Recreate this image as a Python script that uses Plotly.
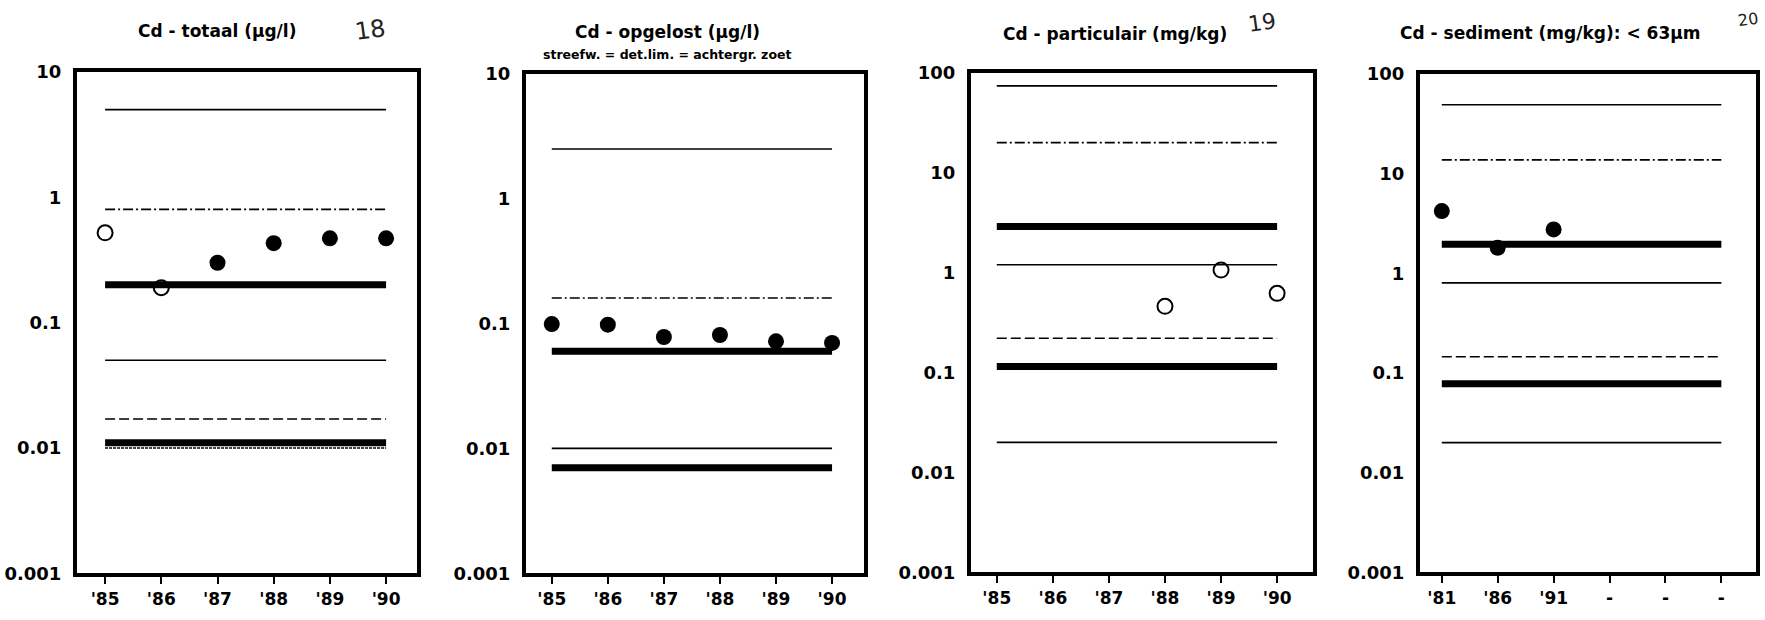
import plotly.graph_objects as go

W, H = 1765, 620

# ---------------- data ----------------
# Panel 1: Cd - totaal (ug/l)
p1_title = "Cd - totaal (µg/l)"
p1_years = ["'85", "'86", "'87", "'88", "'89", "'90"]
p1_open = [0.52, 0.19, None, None, None, None]
p1_filled = [None, None, 0.30, 0.43, 0.47, 0.47]
p1_thin = [5.0, 0.05]
p1_dashdot = [0.8]
p1_thick = [0.2, 0.011]
p1_dash = [0.017]
p1_dot = [0.01]

# Panel 2: Cd - opgelost (ug/l)
p2_title = "Cd - opgelost (µg/l)"
p2_subtitle = "streefw. = det.lim. = achtergr. zoet"
p2_years = ["'85", "'86", "'87", "'88", "'89", "'90"]
p2_open = [None, None, None, None, None, None]
p2_filled = [0.099, 0.098, 0.078, 0.081, 0.072, 0.070]
p2_thin = [2.5, 0.01]
p2_dashdot = [0.16]
p2_thick = [0.06, 0.007]
p2_dash = []
p2_dot = []

# Panel 3: Cd - particulair (mg/kg)
p3_title = "Cd - particulair (mg/kg)"
p3_years = ["'85", "'86", "'87", "'88", "'89", "'90"]
p3_open = [None, None, None, 0.46, 1.06, 0.62]
p3_filled = [None, None, None, None, None, None]
p3_thin = [74, 1.2, 0.02]
p3_dashdot = [20]
p3_thick = [2.9, 0.115]
p3_dash = [0.22]
p3_dot = []

# Panel 4: Cd - sediment (mg/kg): < 63um
p4_title = "Cd - sediment (mg/kg): < 63µm"
p4_years = ["'81", "'86", "'91", "-", "-", "-"]
p4_open = [None, None, None, None, None, None]
p4_filled = [4.2, 1.8, 2.75, None, None, None]
p4_thin = [49, 0.8, 0.02]
p4_dashdot = [13.7]
p4_thick = [1.95, 0.078]
p4_dash = [0.145]
p4_dot = []

tick_small = [0.001, 0.01, 0.1, 1, 10]
tick_small_txt = ["0.001", "0.01", "0.1", "1", "10"]
tick_big = [0.001, 0.01, 0.1, 1, 10, 100]
tick_big_txt = ["0.001", "0.01", "0.1", "1", "10", "100"]

# ---------------- layout helpers ----------------
FONT = "DejaVu Sans"
STYLES = {
    "thin": dict(width=1.6, dash="solid"),
    "dashdot": dict(width=1.6, dash="10px,3px,2px,3px"),
    "dash": dict(width=1.6, dash="10px,4px"),
    "thick": dict(width=7, dash="solid"),
    "dot": dict(width=1.6, dash="3px,1px"),
}

panels = [
    dict(title=p1_title, years=p1_years, open=p1_open, filled=p1_filled,
         lines=dict(thin=p1_thin, dashdot=p1_dashdot, dash=p1_dash, thick=p1_thick, dot=p1_dot),
         ticks=(tick_small, tick_small_txt), yr=[-3, 1],
         px=(77, 417), py=(63, 582), xr=[-0.5, 5.55], tpos=(217, 21)),
    dict(title=p2_title, years=p2_years, open=p2_open, filled=p2_filled,
         lines=dict(thin=p2_thin, dashdot=p2_dashdot, dash=p2_dash, thick=p2_thick, dot=p2_dot),
         ticks=(tick_small, tick_small_txt), yr=[-3, 1],
         px=(526, 864), py=(65, 582), xr=[-0.46, 5.57], tpos=(667, 22)),
    dict(title=p3_title, years=p3_years, open=p3_open, filled=p3_filled,
         lines=dict(thin=p3_thin, dashdot=p3_dashdot, dash=p3_dash, thick=p3_thick, dot=p3_dot),
         ticks=(tick_big, tick_big_txt), yr=[-3, 2],
         px=(971, 1313), py=(64, 581), xr=[-0.46, 5.64], tpos=(1115, 24)),
    dict(title=p4_title, years=p4_years, open=p4_open, filled=p4_filled,
         lines=dict(thin=p4_thin, dashdot=p4_dashdot, dash=p4_dash, thick=p4_thick, dot=p4_dot),
         ticks=(tick_big, tick_big_txt), yr=[-3, 2],
         px=(1420, 1756), py=(65, 581), xr=[-0.39, 5.62], tpos=(1550, 23)),
]

fig = go.Figure()
layout = dict(
    width=W, height=H, margin=dict(l=0, r=0, t=0, b=0),
    paper_bgcolor="white", plot_bgcolor="white", showlegend=False,
    font=dict(family=FONT, color="black"),
)
annotations = []

for i, p in enumerate(panels):
    n = "" if i == 0 else str(i + 1)
    xa, ya = "x" + n, "y" + n
    xs = list(range(len(p["years"])))
    for kind, vals in p["lines"].items():
        for v in vals:
            fig.add_trace(go.Scatter(
                x=[xs[0], xs[-1]], y=[v, v], mode="lines", xaxis=xa, yaxis=ya,
                line=dict(color="black", **STYLES[kind]), hoverinfo="skip"))
    fig.add_trace(go.Scatter(
        x=xs, y=p["filled"], mode="markers", xaxis=xa, yaxis=ya,
        marker=dict(symbol="circle", size=16, color="black")))
    fig.add_trace(go.Scatter(
        x=xs, y=p["open"], mode="markers", xaxis=xa, yaxis=ya,
        marker=dict(symbol="circle-open", size=15, color="black", line=dict(width=2))))

    x0, x1 = p["px"]
    yt, yb = p["py"]
    layout["xaxis" + n] = dict(
        domain=[x0 / W, x1 / W], anchor=ya, range=p["xr"],
        tickmode="array", tickvals=xs, ticktext=p["years"],
        ticks="outside", ticklen=7, tickwidth=1.5, tickcolor="black",
        showline=True, linewidth=4, linecolor="black", mirror=True,
        showgrid=False, zeroline=False,
        tickfont=dict(family=FONT, size=17, weight="bold", color="black"),
        fixedrange=True)
    layout["yaxis" + n] = dict(
        domain=[1 - yb / H, 1 - yt / H], anchor=xa, type="log", range=p["yr"],
        tickmode="array", tickvals=p["ticks"][0], ticktext=p["ticks"][1],
        ticks="", ticklabelstandoff=8,
        showline=True, linewidth=4, linecolor="black", mirror=True,
        showgrid=False, zeroline=False,
        tickfont=dict(family=FONT, size=18, weight="bold", color="black"),
        fixedrange=True)
    tx, ty = p["tpos"]
    annotations.append(dict(
        text=p["title"], x=tx / W, y=1 - ty / H, xref="paper", yref="paper",
        xanchor="center", yanchor="middle", showarrow=False,
        font=dict(family=FONT, size=17, weight="bold", color="black")))

annotations.append(dict(
    text=p2_subtitle, x=667 / W, y=1 - 45 / H, xref="paper", yref="paper",
    xanchor="center", yanchor="middle", showarrow=False,
    font=dict(family=FONT, size=12.5, weight="bold", color="black")))

# handwritten page marks
for txt, hx, hy, sz in [("18", 370, 20, 24), ("19", 1262, 12, 22), ("20", 1748, 9, 16)]:
    annotations.append(dict(
        text=txt, x=hx / W, y=1 - hy / H, xref="paper", yref="paper",
        xanchor="center", yanchor="middle", showarrow=False, textangle=-8,
        font=dict(family="DejaVu Sans", size=sz, weight="normal", color="#222")))

layout["annotations"] = annotations
fig.update_layout(**layout)
fig.write_html("out.html")
